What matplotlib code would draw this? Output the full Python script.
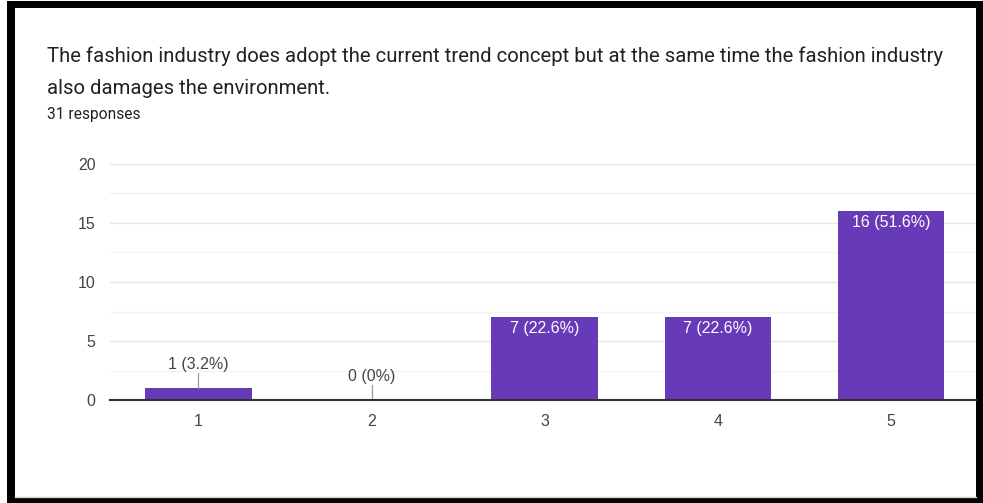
import matplotlib
matplotlib.use("Agg")
import matplotlib.pyplot as plt
from matplotlib.patches import Rectangle
from matplotlib.lines import Line2D
from matplotlib.ticker import MultipleLocator

plt.rcParams['font.family'] = ['Roboto', 'DejaVu Sans']
CHART_FONT = ['Liberation Sans', 'DejaVu Sans']

# Survey data
categories = ["1", "2", "3", "4", "5"]
counts = [1, 0, 7, 7, 16]
total_responses = 31
question_lines = ["The fashion industry does adopt the current trend concept but at the same time the fashion industry",
                  "also damages the environment."]
y_ticks = [0, 5, 10, 15, 20]

W, H = 983, 503
fig = plt.figure(figsize=(W / 100, H / 100), dpi=100)
fig.patch.set_facecolor("white")


def fx(px):
    return px / W


def fy(py):
    return 1 - py / H


# Card frame: black border around a white panel
fig.patches.append(Rectangle((fx(7), fy(503)), fx(976), 502 / H,
                             transform=fig.transFigure, facecolor="black",
                             edgecolor="none", zorder=0))
fig.patches.append(Rectangle((fx(15), fy(497)), fx(961), 489 / H,
                             transform=fig.transFigure, facecolor="white",
                             edgecolor="none", zorder=1))
fig.lines.append(Line2D([fx(15), fx(976)], [fy(496.5), fy(496.5)],
                        transform=fig.transFigure, color="#d0d0d0", lw=1.0, zorder=2))

# Header text
for i, line in enumerate(question_lines):
    fig.text(fx(47), fy(61.5 + 32 * i), line, fontsize=14.6, color="#202124",
             ha="left", va="baseline", zorder=3)
fig.text(fx(47), fy(118.5), f"{total_responses} responses", fontsize=11.2,
         color="#202124", ha="left", va="baseline", zorder=3)

# Chart area
ax = fig.add_axes([fx(110), fy(400), fx(976 - 110), 236 / H])
ax.set_zorder(5)
ax.set_facecolor("none")
x = list(range(1, len(categories) + 1))
bar_color = "#673AB7"
ax.bar(x, counts, width=0.615, color=bar_color, zorder=3)

ax.set_xlim(0.49, 5.49)
ax.set_ylim(0, 20)
ax.set_xticks(x)
ax.set_xticklabels(categories, family=CHART_FONT)
ax.set_yticks(y_ticks)
ax.set_yticklabels([str(v) for v in y_ticks], family=CHART_FONT)
ax.yaxis.set_minor_locator(MultipleLocator(2.5))
ax.grid(axis="y", which="major", color="#e6e6e6", lw=1.0, zorder=0)
ax.grid(axis="y", which="minor", color="#f2f2f2", lw=1.0, zorder=0)
ax.tick_params(axis="both", which="both", length=0, labelsize=11.5, colors="#444444")
ax.tick_params(axis="y", pad=10.5)
ax.tick_params(axis="x", pad=10)
for side in ["top", "right", "left"]:
    ax.spines[side].set_visible(False)
ax.spines["bottom"].set_color("#333333")
ax.spines["bottom"].set_linewidth(1.5)
ax.spines["bottom"].set_zorder(4)


def pct_text(n):
    p = round(100 * n / total_responses, 1)
    s = f"{p:.1f}".rstrip("0").rstrip(".")
    return f"{n} ({s}%)"


for xi, n in zip(x, counts):
    if n >= 3:
        ax.text(xi, n - 0.93, pct_text(n), ha="center", va="center",
                fontsize=11.5, family=CHART_FONT, color="white", zorder=5)
    else:
        ax.plot([xi, xi], [n, n + 1.3], color="#999999", lw=0.9, zorder=4)
        ax.text(xi, n + 1.97, pct_text(n), ha="center", va="center",
                fontsize=11.5, family=CHART_FONT, color="#444444", zorder=5)

fig.savefig("out.png", dpi=100)
